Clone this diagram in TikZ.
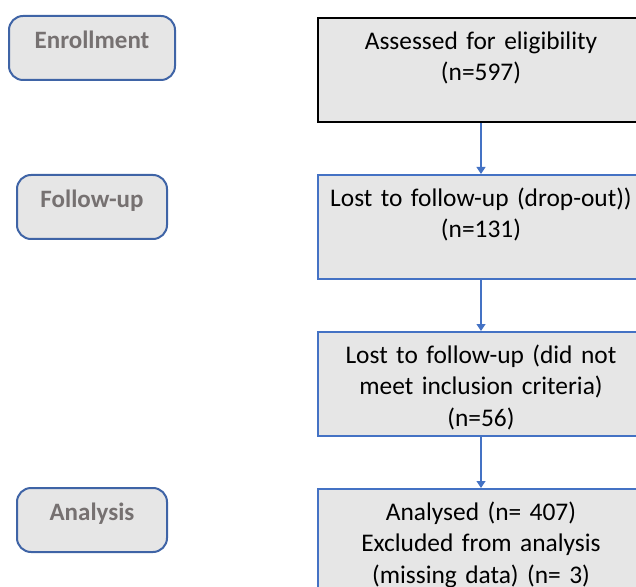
\documentclass[tikz,border=0pt]{standalone}
\usepackage{fontspec}
\setmainfont{Carlito}
\usetikzlibrary{arrows.meta}

\definecolor{boxfill}{HTML}{E6E6E6}
\definecolor{stageline}{HTML}{3F64A6}
\definecolor{flowline}{HTML}{4472C4}
\definecolor{stagetext}{HTML}{767171}

\begin{document}
\begin{tikzpicture}[x=0.5pt,y=-0.5pt,
    stage/.style={draw=stageline, line width=1pt, fill=boxfill, rounded corners=7pt,
        text=stagetext, font=\fontsize{12.5}{15}\selectfont\bfseries,
        minimum height=32pt, text height=6pt, text depth=5.5pt},
    flowbox/.style={draw=flowline, line width=0.9pt, fill=boxfill, anchor=north,
        inner xsep=3pt, inner ysep=0pt, text width=157pt, align=center,
        font=\fontsize{12.7}{15.9}\selectfont, text height=15.6pt, text depth=36.4pt},
    flowarrow/.style={draw=flowline, line width=0.6pt, -{Triangle[length=3.5pt,width=4.5pt]}}]

    % page of the reference, the boxes on the right run off its edge
    \useasboundingbox (0,0) rectangle (636,587);
    \clip (0,0) rectangle (636,587);

    % stages on the left
    \node[stage, minimum width=83pt] (enroll) at (92,48) {Enrollment};
    \node[stage, minimum width=75pt] (followup) at (92,207) {Follow-up};
    \node[stage, minimum width=75pt] (analysis) at (92,520) {Analysis};

    % flow on the right
    \node[flowbox, draw=black] (assessed) at (481,17) {Assessed for eligibility\\(n=597)};
    \node[flowbox] (dropout) at (481,174) {Lost to follow-up (drop-out))\\(n=131)};
    \node[flowbox] (criteria) at (481,331) {Lost to follow-up (did not\\meet inclusion criteria)\\(n=56)};
    \node[flowbox] (analysed) at (481,488) {Analysed (n= 407)\\Excluded from analysis\\(missing data) (n= 3)};

    % connectors
    \draw[flowarrow] (assessed) -- (dropout);
    \draw[flowarrow] (dropout) -- (criteria);
    \draw[flowarrow] (criteria) -- (analysed);

\end{tikzpicture}
\end{document}
